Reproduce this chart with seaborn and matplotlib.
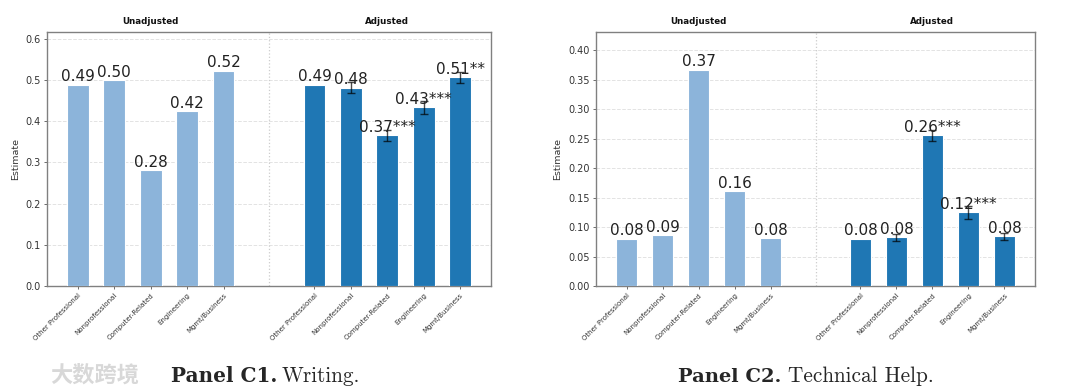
import numpy as np
import pandas as pd
import matplotlib
matplotlib.use("Agg")
import matplotlib.pyplot as plt
import matplotlib.transforms as mtransforms
import seaborn as sns

# Data
categories = ["Other Professional", "Nonprofessional", "Computer-Related",
              "Engineering", "Mgmt/Business"]

writing_unadj = [0.489, 0.500, 0.281, 0.424, 0.523]
writing_adj = [0.489, 0.482, 0.366, 0.434, 0.507]
writing_err = [0.0, 0.013, 0.014, 0.015, 0.013]
writing_stars = ["", "", "***", "***", "**"]

tech_unadj = [0.080, 0.086, 0.367, 0.161, 0.081]
tech_adj = [0.080, 0.083, 0.256, 0.125, 0.084]
tech_err = [0.0, 0.006, 0.0095, 0.011, 0.006]
tech_stars = ["", "", "***", "***", ""]

light_blue = "#8cb4da"
dark_blue = "#1f77b4"

sns.set_style("ticks")
plt.rcParams["font.family"] = ["DejaVu Sans"]

fig = plt.figure(figsize=(10.8, 3.91), dpi=100)


def draw_panel(rect, unadj, adj, err, stars, yticks, ylim, fmt):
    ax = fig.add_axes(rect)
    n = len(categories)
    pos_u = np.arange(n, dtype=float)
    pos_a = np.arange(n, dtype=float) + n + 1.5
    df = pd.DataFrame({
        "pos": np.r_[pos_u, pos_a],
        "est": unadj + adj,
        "group": ["Unadjusted"] * n + ["Adjusted"] * n,
    })
    sns.barplot(data=df, x="pos", y="est", hue="group", native_scale=True,
                palette={"Unadjusted": light_blue, "Adjusted": dark_blue},
                saturation=1, width=0.6, dodge=False, legend=False, ax=ax,
                edgecolor="white", linewidth=0.8, zorder=3)
    # error bars on adjusted estimates
    has_err = np.array(err) > 0
    ax.errorbar(pos_a[has_err], np.array(adj)[has_err], yerr=np.array(err)[has_err],
                fmt="none", ecolor="black", alpha=0.7, capsize=3, elinewidth=1,
                zorder=4)
    for x, v in zip(pos_u, unadj):
        ax.annotate(f"{v:.2f}", (x, v), xytext=(0, 0.3), textcoords="offset points",
                    ha="center", va="bottom", fontsize=11, color="#222222", zorder=5)
    for x, v, s in zip(pos_a, adj, stars):
        ax.annotate(f"{v:.2f}{s}", (x, v), xytext=(0, 0.3), textcoords="offset points",
                    ha="center", va="bottom", fontsize=11, color="#222222", zorder=5)

    sep = (pos_u[-1] + pos_a[0]) / 2
    ax.axvline(sep, color="#cccccc", linestyle=":", linewidth=0.9, zorder=1)
    ax.grid(axis="y", linestyle="--", color="#e3e3e3", linewidth=0.7, zorder=0)
    ax.set_axisbelow(True)

    ax.set_xlim(-0.85, pos_a[-1] + 0.85)
    ax.set_ylim(*ylim)
    ax.set_xticks(np.r_[pos_u, pos_a])
    ax.set_xticklabels(categories * 2, rotation=45, ha="right",
                       rotation_mode="anchor", fontsize=5.0, color="#333333")
    ax.set_yticks(yticks)
    ax.set_yticklabels([fmt.format(t) for t in yticks], fontsize=7, color="#333333")
    ax.tick_params(axis="both", length=2.5, width=0.6, color="#555555", pad=2)
    ax.set_xlabel("")
    ax.set_ylabel("Estimate", fontsize=6.8, color="#333333", labelpad=4)
    for sp in ax.spines.values():
        sp.set_visible(True)
        sp.set_color("#808080")
        sp.set_linewidth(1.0)

    trans = mtransforms.blended_transform_factory(ax.transData, ax.transAxes)
    ax.text(pos_u.mean(), 1.025, "Unadjusted", transform=trans, ha="center",
            va="bottom", fontsize=6.3, fontweight="bold", color="#111111")
    ax.text(pos_a.mean(), 1.025, "Adjusted", transform=trans, ha="center",
            va="bottom", fontsize=6.3, fontweight="bold", color="#111111")
    return ax


draw_panel([47 / 1080, 105 / 391, 444 / 1080, 254 / 391],
           writing_unadj, writing_adj, writing_err, writing_stars,
           np.arange(0, 0.61, 0.1), (0, 0.617), "{:.1f}")
draw_panel([596 / 1080, 105 / 391, 439 / 1080, 254 / 391],
           tech_unadj, tech_adj, tech_err, tech_stars,
           np.arange(0, 0.401, 0.05), (0, 0.431), "{:.2f}")

# captions
fig.text(277 / 1080, 0.024, "Panel C1.", family="DejaVu Serif", fontweight="bold",
         fontsize=14.4, ha="right", va="baseline")
fig.text(282 / 1080, 0.024, "Writing.", family="cmr10", fontsize=15.3,
         ha="left", va="baseline")
fig.text(781 / 1080, 0.024, "Panel C2.", family="DejaVu Serif", fontweight="bold",
         fontsize=14.0, ha="right", va="baseline")
fig.text(788 / 1080, 0.024, "Technical Help.", family="cmr10", fontsize=15.3,
         ha="left", va="baseline")

# watermark
fig.text(50 / 1080, 0.04, "大数跨境", family=["Noto Sans CJK SC", "DejaVu Sans"],
         fontsize=16, color="#d8d8d8", ha="left", va="center", fontweight="bold")

fig.savefig("out.png", dpi=100, facecolor="white")
